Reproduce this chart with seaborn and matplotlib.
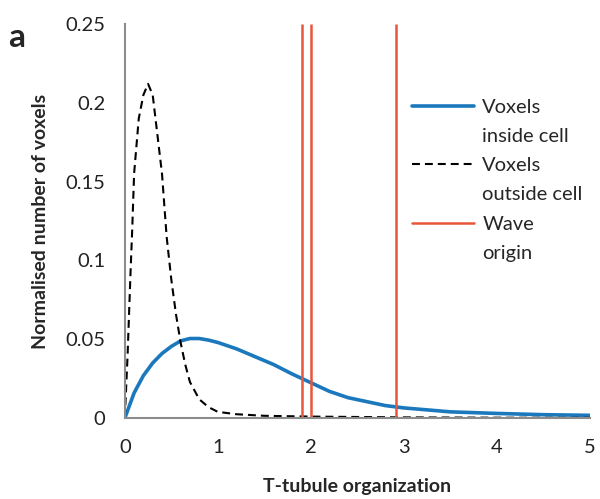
import numpy as np
import pandas as pd
import matplotlib
matplotlib.use("Agg")
import matplotlib.pyplot as plt
from matplotlib.lines import Line2D
import seaborn as sns

# valores
x_inside = [0, 0.1, 0.2, 0.3, 0.4, 0.5, 0.6, 0.7, 0.8, 0.9, 1.0, 1.2, 1.4, 1.6, 1.8,
            2.0, 2.2, 2.4, 2.6, 2.8, 3.0, 3.5, 4.0, 4.5, 5.0]
y_inside = [0, 0.016, 0.027, 0.035, 0.041, 0.0455, 0.049, 0.0505, 0.0505, 0.0495, 0.048,
            0.044, 0.039, 0.034, 0.028, 0.0225, 0.017, 0.013, 0.0105, 0.008, 0.0065,
            0.004, 0.003, 0.0022, 0.0018]
x_outside = [0, 0.03, 0.06, 0.08, 0.1, 0.15, 0.2, 0.25, 0.3, 0.35, 0.4, 0.45, 0.5, 0.55,
             0.6, 0.65, 0.7, 0.8, 0.9, 1.0, 1.2, 1.5, 2.0, 3.0, 4.0, 5.0]
y_outside = [0, 0.04, 0.09, 0.12, 0.155, 0.19, 0.205, 0.212, 0.205, 0.18, 0.155, 0.115,
             0.088, 0.066, 0.048, 0.034, 0.023, 0.012, 0.007, 0.004, 0.0025, 0.0015,
             0.001, 0.0005, 0.0003, 0.0002]
wave_origin = [1.91, 2.0, 2.92]
yticks = [0, 0.05, 0.1, 0.15, 0.2, 0.25]
ytick_labels = ["0", "0.05", "0.1", "0.15", "0.2", "0.25"]
xticks = [0, 1, 2, 3, 4, 5]

blue = "#1b78bd"
red = "#e8553a"
grey = "#8c8c8c"
dash = (0, (3.8, 2.4))

sns.set_style("white")
plt.rcParams["font.family"] = ["Lato", "DejaVu Sans"]

fig = plt.figure(figsize=(6.0, 4.99), dpi=100)
ax = fig.add_axes([0.208, 0.162, 0.775, 0.79])

df_in = pd.DataFrame({"x": x_inside, "y": y_inside})
df_out = pd.DataFrame({"x": x_outside, "y": y_outside})
sns.lineplot(data=df_in, x="x", y="y", ax=ax, color=blue, linewidth=2.6)
sns.lineplot(data=df_out, x="x", y="y", ax=ax, color="black", linewidth=1.5,
             linestyle=dash)
ax.vlines(wave_origin, 0, 0.25, color=red, linewidth=1.8)

ax.set_xlim(0, 5)
ax.set_ylim(0, 0.25)
ax.set_xticks(xticks)
ax.set_xticklabels([str(v) for v in xticks])
ax.set_yticks(yticks)
ax.set_yticklabels(ytick_labels)
ax.tick_params(axis="both", labelsize=14.5, labelcolor="#222222", color=grey,
               length=5, width=1.2, direction="out")
ax.tick_params(axis="x", pad=10)
ax.tick_params(axis="y", pad=9)
sns.despine(ax=ax)
for s in ["left", "bottom"]:
    ax.spines[s].set_color(grey)
    ax.spines[s].set_linewidth(1.5)
ax.set_xlabel("T-tubule organization", fontsize=14, fontweight="bold", labelpad=16)
ax.set_ylabel("Normalised number of voxels", fontsize=14, fontweight="bold", labelpad=12)

fig.text(0.013, 0.905, "a", fontsize=24, fontweight="bold")

# legenda com a segunda linha do rótulo em entrada própria
blank = Line2D([], [], color="none")
handles = [Line2D([], [], color=blue, linewidth=2.6), blank,
           Line2D([], [], color="black", linewidth=1.5, linestyle=dash), blank,
           Line2D([], [], color=red, linewidth=1.8), blank]
labels = ["Voxels", "inside cell", "Voxels", "outside cell", "Wave", "origin"]
ax.legend(handles, labels, loc="upper left", bbox_to_anchor=(0.617, 0.81),
          frameon=False, fontsize=14.5, handlelength=3.1, handletextpad=0.4,
          labelspacing=0.6, borderaxespad=0, borderpad=0)

fig.savefig("out.png", dpi=100)
